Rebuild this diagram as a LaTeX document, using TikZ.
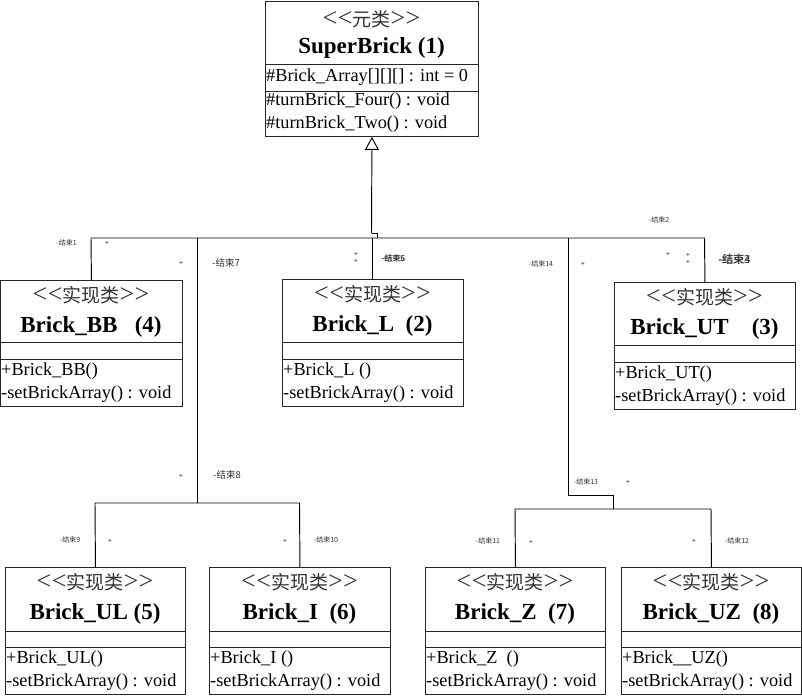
\documentclass[tikz,border=0pt]{standalone}
\usepackage{fontspec}
\setmainfont{Liberation Serif}
\newfontfamily\cjk{Noto Sans CJK SC}
\newfontfamily\ltfont[Ligatures=NoCommon]{Liberation Serif}
\usetikzlibrary{arrows.meta}
\newcommand\lts{{\ltfont\fontsize{26}{26}\selectfont <\kern0.5pt<}}
\newcommand\gts{{\ltfont\fontsize{26}{26}\selectfont >\kern0.5pt>}}
\newcommand\stereo[1]{\lts{\cjk\fontsize{19}{20}\selectfont #1}\gts}
\tikzset{
  box/.style={draw=black!85, line width=0.9pt, rectangle, inner sep=0pt, anchor=north west},
  sepline/.style={draw=black!85, line width=0.9pt},
  stt/.style={font=\fontsize{20}{22}\selectfont, inner sep=0pt, text=black!80},
  nmt/.style={font=\fontsize{23}{25}\selectfont\bfseries, inner sep=0pt},
  mtt/.style={font=\fontsize{18.3}{20}\selectfont, inner sep=0pt, anchor=west},
  lbl/.style={font=\fontsize{7}{8}\cjk, inner sep=0pt, text=black!80},
  starlbl/.style={font=\fontsize{7.5}{8}\selectfont, inner sep=0pt, text=black!80},
  wire/.style={line width=0.95pt, black},
  inh/.style={line width=0.95pt, black, -{Triangle[open,length=13pt,width=14pt]}}
}
% id, x1, y1, x2, y2, l1, l2, name, ctor
\newcommand\clsbox[9]{%
  \node[box, minimum width={#4-#2}, minimum height={#5-#3}] (#1) at (#2,#3) {};
  \draw[sepline] (#2,#6) -- (#4,#6);
  \draw[sepline] (#2,#7) -- (#4,#7);
  \node[stt] (#1-st) at ({(#2+#4)/2},{#3+15}) {\stereo{实现类}};
  \node[nmt] (#1-nm) at ({(#2+#4)/2},{#3+47}) {#8};
  \node[mtt] (#1-m1) at ({#2+1},{#7+12}) {#9};
  \node[mtt] (#1-m2) at ({#2+1},{#7+35}) {-setBrickArray() : void};
}
\begin{document}
\begin{tikzpicture}[x=1pt,y=-1pt]
\useasboundingbox[fill=white] (0,0) rectangle (802,696);

% SuperBrick
\node[box, minimum width=213, minimum height=135] (sb) at (265,1) {};
\draw[sepline] (265,64) -- (478,64);
\draw[sepline] (265,91) -- (478,91);
\node[stt] (sb-st) at (371.5,19) {\stereo{元类}};
\node[nmt] (sb-nm) at (371.5,48) {SuperBrick (1)};
\node[mtt] (sb-a) at (266,77) {\#Brick\_Array[][][] : int = 0};
\node[mtt] (sb-m1) at (266,101) {\#turnBrick\_Four() : void};
\node[mtt] (sb-m2) at (266,124) {\#turnBrick\_Two() : void};

% implementation classes
\clsbox{bb}{0}{280}{182}{406}{342}{359}{Brick\_BB~~~(4)}{+Brick\_BB()}
\clsbox{l}{282}{279}{463}{406}{342}{359}{Brick\_L~~(2)}{+Brick\_L ()}
\clsbox{ut}{614}{282}{795}{409}{345}{362}{Brick\_UT~~~~(3)}{+Brick\_UT()}
\clsbox{ul}{5}{567}{185}{694}{631}{647}{Brick\_UL (5)}{+Brick\_UL()}
\clsbox{i}{209}{567}{390}{694}{631}{647}{Brick\_I~~(6)}{+Brick\_I ()}
\clsbox{z}{425}{567}{605}{694}{631}{647}{Brick\_Z~~(7)}{+Brick\_Z~~()}
\clsbox{uz}{621}{567}{801}{694}{631}{647}{Brick\_UZ~~(8)}{+Brick\_\_UZ()}

% junction coordinates
\coordinate (jog1) at (371.5,233);
\coordinate (jog2) at (377,233);
\coordinate (jog3) at (377,238);
\coordinate (busL) at (91,238);
\coordinate (busR) at (704.5,238);
\coordinate (b7) at (197,238);
\coordinate (b8) at (197,503);
\coordinate (barL) at (95,503);
\coordinate (barR) at (299.5,503);
\coordinate (b14) at (568,238);
\coordinate (c1) at (568,495);
\coordinate (c2) at (613,495);
\coordinate (c3) at (613,509);
\coordinate (bar2L) at (515,509);
\coordinate (bar2R) at (711,509);

% connectors
\draw[inh] (jog1) -- (sb.south);
\draw[wire] (jog1) -- (jog2) -- (jog3);
\draw[wire] (bb.north) -- (busL) -- (busR) -- (ut.north);
\draw[wire] (l.north) -- (l.north |- busL);
\draw[wire] (b7) -- (b8);
\draw[wire] (ul.north) -- (barL) -- (barR) -- (i.north);
\draw[wire] (b14) -- (c1) -- (c2) -- (c3);
\draw[wire] (z.north) -- (bar2L) -- (bar2R) -- (uz.north);

% end labels
\node[lbl] (e1) at (66.5,243) {-结束1};
\node[lbl, font=\fontsize{9.5}{10}\cjk] (e7) at (226,263) {-结束7};
\node[lbl, font=\fontsize{8}{9}\cjk] (e5) at (393,258) {-结束5};
\node[lbl, font=\fontsize{8}{9}\cjk] (e6) at (393.6,258.6) {-结束6};
\node[lbl] (e2) at (659,220) {-结束2};
\node[lbl] (e14) at (541,264) {-结束14};
\node[lbl, font=\fontsize{11}{12}\cjk] (e3) at (734,259) {-结束3};
\node[lbl, font=\fontsize{11}{12}\cjk] (e4) at (734.7,259.7) {-结束4};
\node[lbl, font=\fontsize{9.5}{10}\cjk] (e8) at (227,475) {-结束8};
\node[lbl] (e9) at (70,540) {-结束9};
\node[lbl] (e10) at (326,540) {-结束10};
\node[lbl] (e13) at (586,482) {-结束13};
\node[lbl] (e11) at (488,541) {-结束11};
\node[lbl] (e12) at (737,541) {-结束12};

% multiplicities
\foreach \n/\x/\y in {s1/107/244, s2/181/264, s3/356/255, s4/356/262, s5/583/265,
  s6/668/255, s7/688/256, s8/688/263, s9/181/477, s10/110/542, s11/285/542,
  s12/628/483, s13/531/543, s14/694/542}
  \node[starlbl] (\n) at (\x,\y) {*};
\end{tikzpicture}
\end{document}
